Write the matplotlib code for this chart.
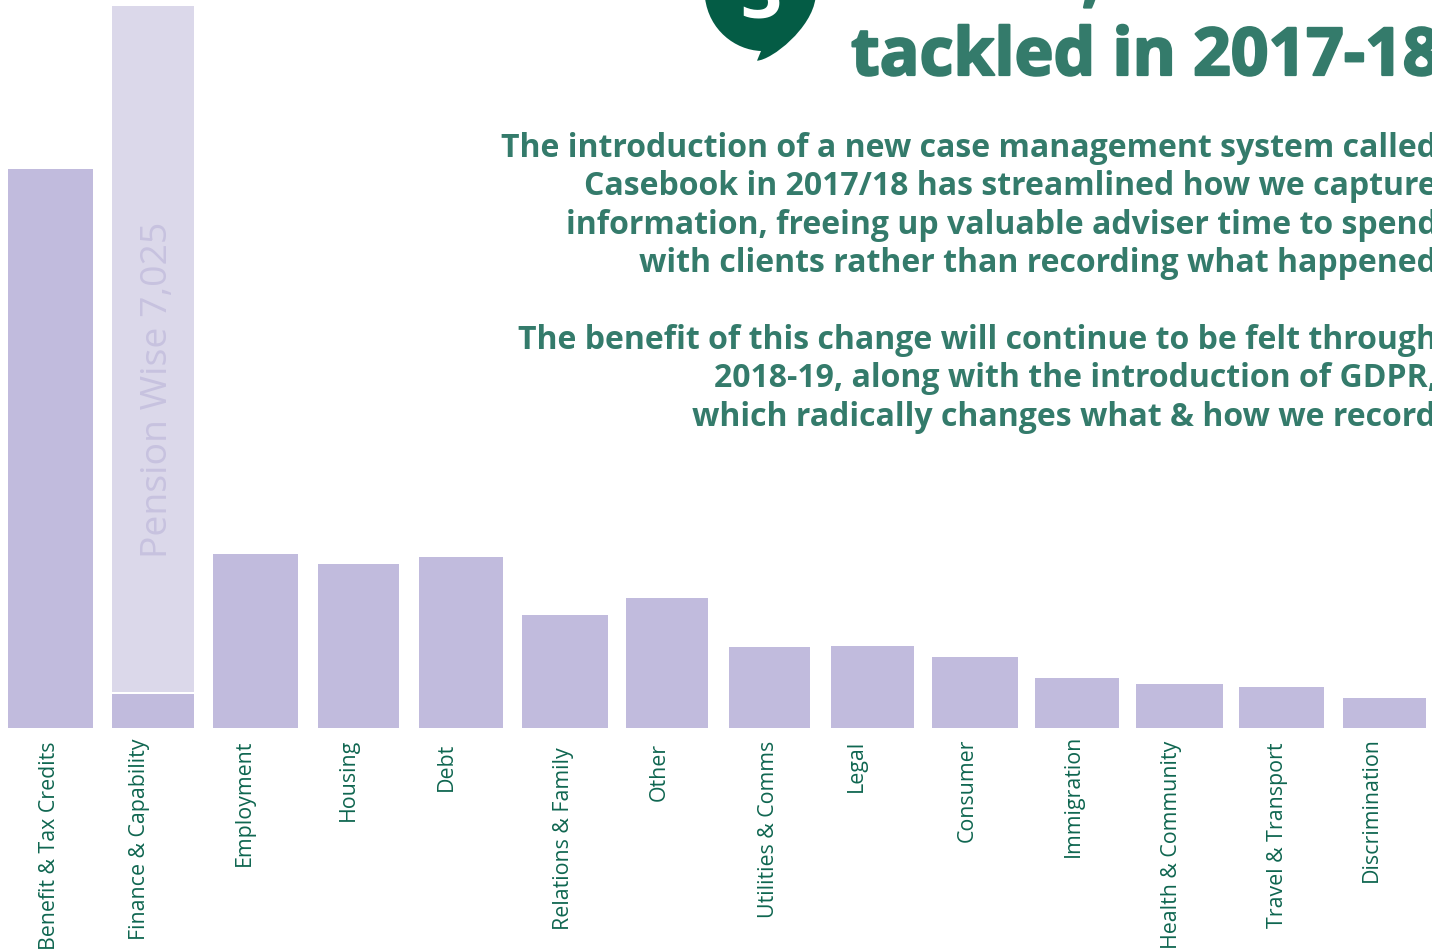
import matplotlib
matplotlib.use('Agg')
import matplotlib.pyplot as plt
import matplotlib.patheffects as pe
from matplotlib.patches import PathPatch
from matplotlib.path import Path

W, H = 1432, 950
PURPLE = '#c1bbdd'
PALE = '#dbd8ea'
TITLE_GREEN = '#347b6b'
LABEL_GREEN = '#0f6650'
BUBBLE_GREEN = '#045c45'

# enquiries by topic, with the pension wise share stacked on finance
categories = ['Benefit & Tax Credits', 'Finance & Capability', 'Employment', 'Housing',
              'Debt', 'Relations & Family', 'Other', 'Utilities & Comms', 'Legal',
              'Consumer', 'Immigration', 'Health & Community', 'Travel & Transport',
              'Discrimination']
values = [5714, 343, 1772, 1675, 1746, 1152, 1326, 824, 835, 722, 507, 445, 415, 302]
pension_wise = 7025

body_lines = ['The introduction of a new case management system called',
              'Casebook in 2017/18 has streamlined how we capture',
              'information, freeing up valuable adviser time to spend',
              'with clients rather than recording what happened',
              'The benefit of this change will continue to be felt through',
              '2018-19, along with the introduction of GDPR,',
              'which radically changes what & how we record']

# layout, in pixels
bar_left = [8, 112, 213, 318, 419, 522, 626, 729, 831, 932, 1035, 1136, 1239, 1343]
bar_right = [93, 194, 298, 399, 503, 608, 708, 810, 914, 1018, 1119, 1223, 1324, 1426]
label_x = [50, 139, 244, 348, 446, 563, 659, 768, 856, 967, 1073, 1172, 1277, 1371]
label_top = [741, 739, 740, 739, 743, 747, 743, 741, 740, 739, 735, 741, 743, 737]
body_x = [501, 584, 566, 639, 518, 714, 692]
body_base = [157, 195, 234, 272, 349, 387, 426]
BASELINE = 727.5
UNITS_PER_PX = 10.24

plt.rcParams['font.family'] = ['Open Sans', 'DejaVu Sans']

fig = plt.figure(figsize=(W / 100, H / 100), dpi=100, facecolor='white')
ax = fig.add_axes([0, 0, 1, 1])
ax.set_xlim(0, W)
ax.set_ylim(-(H - BASELINE) * UNITS_PER_PX, BASELINE * UNITS_PER_PX)
ax.axis('off')

widths = [r - l for l, r in zip(bar_left, bar_right)]
ax.bar(bar_left, values, width=widths, align='edge', color=PURPLE)
# pale block sits on top of finance with a thin white gap
ax.bar(bar_left[1], pension_wise, bottom=values[1] + 2 * UNITS_PER_PX, width=widths[1],
       align='edge', color=PALE)


def px(x, y):
    return x / W, 1 - y / H


def put(x, y, s, size_px, **kw):
    return fig.text(*px(x, y), s, fontsize=size_px * 0.72, **kw)


for name, x, top in zip(categories, label_x, label_top):
    put(x, top, name, 21.35, color=LABEL_GREEN, rotation=90, ha='center', va='top')

put(158, 558, 'Pension Wise 7,025', 37.4, color='#c7c2df', rotation=90, ha='center', va='bottom')

for line, x, y in zip(body_lines, body_x, body_base):
    put(x, y, line, 32.0, color=TITLE_GREEN, fontweight='bold', ha='left', va='baseline')

# heavier outline on the headline
heavy = [pe.withStroke(linewidth=1.6, foreground=TITLE_GREEN)]
put(851, 75, 'tackled in 2017-18', 66, color=TITLE_GREEN, fontweight='bold', ha='left',
    va='baseline', path_effects=heavy)
put(1082, -1, ',', 66, color=TITLE_GREEN, fontweight='bold', ha='left', va='baseline',
    path_effects=heavy)

# speech bubble with the number cut off by the top edge
bubble_ax = fig.add_axes([0, 0, 1, 1], facecolor='none')
bubble_ax.set_xlim(0, W)
bubble_ax.set_ylim(H, 0)
bubble_ax.axis('off')
bubble_verts = [(705, -2), (709, 30), (735, 50), (761, 51), (757, 60.7),
                (772, 60), (812, 28), (815.5, -2), (705, -2)]
bubble_codes = [Path.MOVETO, Path.CURVE4, Path.CURVE4, Path.CURVE4, Path.LINETO,
                Path.CURVE4, Path.CURVE4, Path.CURVE4, Path.CLOSEPOLY]
bubble_ax.add_patch(PathPatch(Path(bubble_verts, bubble_codes), facecolor=BUBBLE_GREEN, lw=0))
put(761, 18, '3', 72, color='white', fontweight='bold', ha='center', va='baseline')

fig.savefig('out.png', dpi=100, facecolor='white')
